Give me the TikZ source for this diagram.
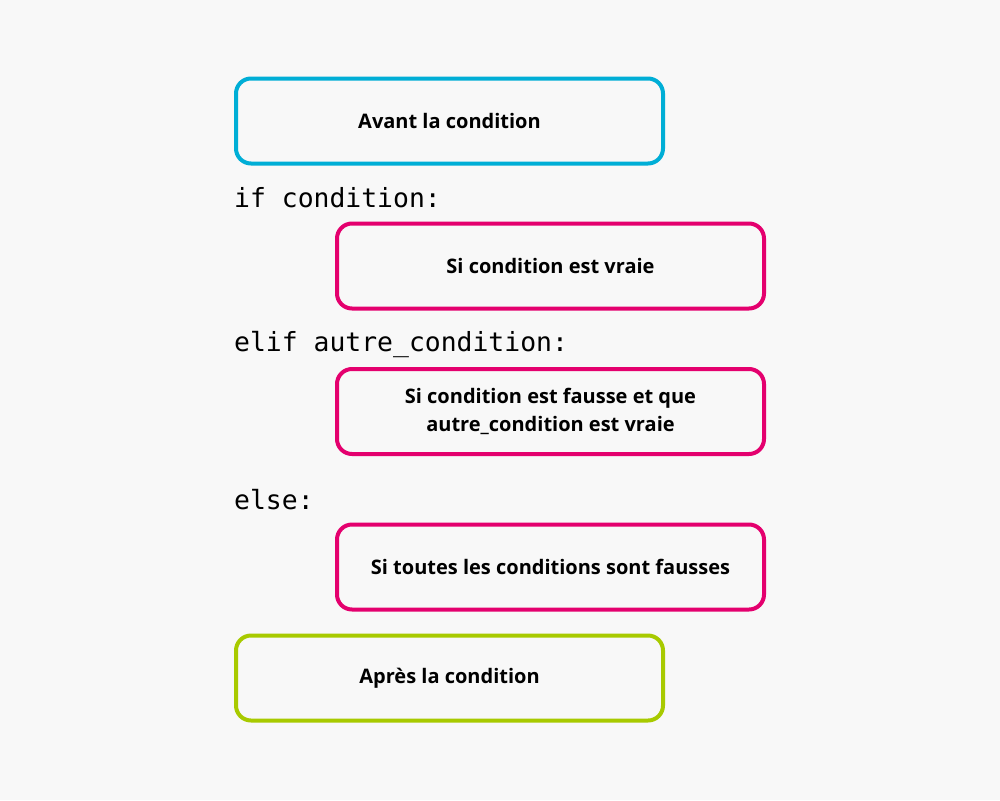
\documentclass[tikz,border=0pt]{standalone}
\usepackage{fontspec}
\setmainfont{Open Sans}
\newfontfamily\codefont{DejaVu Sans Mono}
\definecolor{bgc}{HTML}{F8F8F8}
\definecolor{cyanb}{HTML}{00AED6}
\definecolor{magb}{HTML}{E4006E}
\definecolor{limeb}{HTML}{A8CA00}
\begin{document}
\begin{tikzpicture}[x=1pt,y=-1pt,
  blockbox/.style={draw, line width=4pt, rounded corners=15pt, minimum width=427pt, minimum height=85pt,
    align=center, inner sep=0pt, font=\fontsize{20}{28}\selectfont\bfseries, text=black},
  codetext/.style={anchor=west, inner sep=0pt, font=\fontsize{26.4}{30}\selectfont\codefont}]
\fill[bgc] (0,0) rectangle (1000,800);
\useasboundingbox (0,0) rectangle (1000,800);
\node[blockbox, draw=cyanb] (avant) at (449.5,121) {Avant la condition};
\node[codetext] (ifc) at (234,198) {if condition:};
\node[blockbox, draw=magb] (vraie) at (550.5,266) {Si condition est vraie};
\node[codetext] (elifc) at (234,345) {elif autre\_condition:};
\node[blockbox, draw=magb] (fausse) at (550.5,411.5) {Si condition est fausse et que\\autre\_condition est vraie};
\node[codetext] (elsec) at (234,500) {else:};
\node[blockbox, draw=magb] (toutes) at (550.5,567) {Si toutes les conditions sont fausses};
\node[blockbox, draw=limeb] (apres) at (449.5,678) {Après la condition};
\end{tikzpicture}
\end{document}
